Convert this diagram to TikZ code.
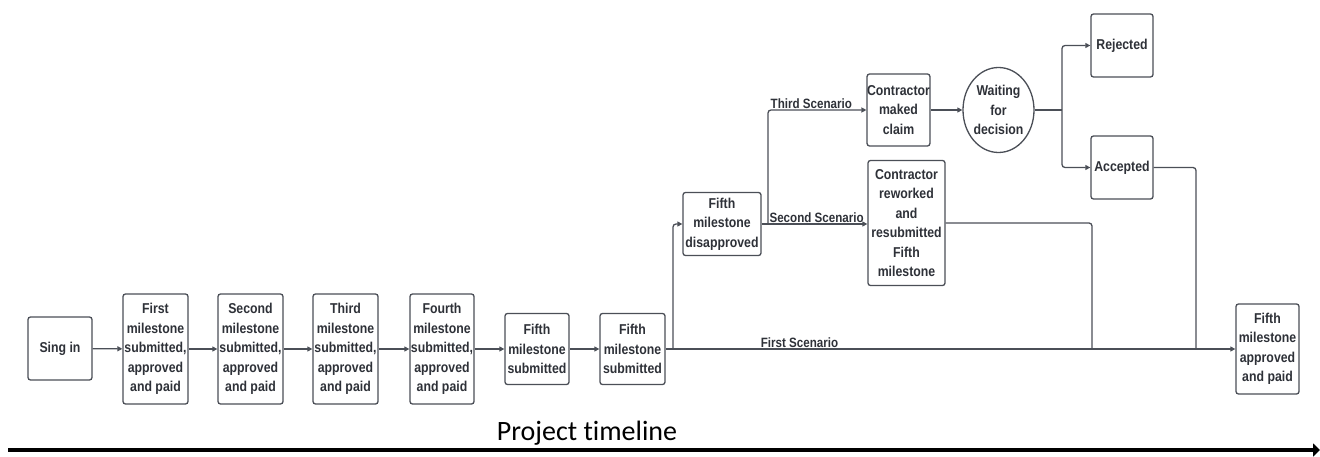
\documentclass[tikz,border=0pt]{standalone}
\usepackage{fontspec}
\usetikzlibrary{arrows.meta,shapes.geometric}
\newfontfamily\boxfont{Liberation Sans}[FakeStretch=0.86]
\newfontfamily\tlfont{Carlito}[Ligatures=NoCommon]
\definecolor{edge}{HTML}{4B4F57}
\definecolor{ink}{HTML}{2E3138}
\tikzset{
  box/.style={draw=edge, line width=1.3pt, rounded corners=2.5pt, fill=white,
    inner sep=0pt, align=center, text=ink,
    font=\boxfont\bfseries\fontsize{14.3}{19.5}\selectfont},
  oval/.style={box, ellipse, rounded corners=0pt},
  link/.style={draw=edge, line width=1.3pt},
  arr/.style={link, -{Triangle[length=5pt,width=5pt]}},
  tag/.style={text=ink, inner sep=1pt, font=\boxfont\bfseries\fontsize{13.5}{15}\selectfont}
}
\begin{document}
\begin{tikzpicture}[x=1pt,y=-1pt]
\useasboundingbox (0,0) rectangle (1320,457);

% milestone chain along the main line
\node[box, minimum width=64pt, minimum height=63pt] (sign) at (60,348.5) {Sing in};
\node[box, minimum width=65pt, minimum height=110pt] (m1) at (155.5,349) {First\\milestone\\submitted,\\approved\\and paid};
\node[box, minimum width=65pt, minimum height=110pt] (m2) at (250.5,349) {Second\\milestone\\submitted,\\approved\\and paid};
\node[box, minimum width=65pt, minimum height=110pt] (m3) at (345.5,349) {Third\\milestone\\submitted,\\approved\\and paid};
\node[box, minimum width=64pt, minimum height=110pt] (m4) at (442,349) {Fourth\\milestone\\submitted,\\approved\\and paid};
\node[box, minimum width=64pt, minimum height=71pt] (f1) at (537,349) {Fifth\\milestone\\submitted};
\node[box, minimum width=65pt, minimum height=71pt] (f2) at (632.5,349) {Fifth\\milestone\\submitted};
\node[box, minimum width=63pt, minimum height=90pt] (fin) at (1267.5,349) {Fifth\\milestone\\approved\\and paid};

% dispute branches
\node[box, minimum width=78pt, minimum height=63pt] (dis) at (722,224) {Fifth\\milestone\\disapproved};
\node[box, minimum width=77pt, minimum height=125pt] (rew) at (906.5,223) {Contractor\\reworked\\and\\resubmitted\\Fifth\\milestone};
\node[box, minimum width=61pt, minimum height=72pt] (claim) at (898.5,110) {Contractor\\maked\\claim};
\node[oval, minimum width=71pt, minimum height=85pt] (wait) at (998.5,110) {Waiting\\for\\decision};
\node[box, minimum width=62pt, minimum height=63pt] (rej) at (1122,45.5) {Rejected};
\node[box, minimum width=62pt, minimum height=63pt] (acc) at (1122,167.5) {Accepted};

% junction points
\coordinate (j1) at (673,349);
\coordinate (j2) at (768,224);
\coordinate (j3) at (1062,110);
\coordinate (j4) at (1092,349);
\coordinate (j5) at (1196,349);

% connectors
\draw[arr] (sign) -- (m1);
\draw[arr] (m1) -- (m2);
\draw[arr] (m2) -- (m3);
\draw[arr] (m3) -- (m4);
\draw[arr] (m4) -- (f1);
\draw[arr] (f1) -- (f2);
\draw[arr] (f2) -- node[tag, above, pos=0.235] {First Scenario} (fin);
\draw[arr, rounded corners=3pt] (j1) |- (dis.west);
\draw[arr] (dis.east) -- node[tag, above, pos=0.52] {Second Scenario} (rew.west |- dis.east);
\draw[arr, rounded corners=3pt] (j2) |- node[tag, above, pos=0.72] {Third Scenario} (claim.west);
\draw[arr] (claim) -- (wait);
\draw[link] (wait.east) -- (j3);
\draw[arr, rounded corners=3pt] (j3) |- (rej.west);
\draw[arr, rounded corners=3pt] (j3) |- (acc.west);
\draw[link, rounded corners=3pt] (acc.east) -| (j5);
\draw[link, rounded corners=3pt] (rew.east) -| (j4);

% project timeline
\node[font=\tlfont\fontsize{28}{30}\selectfont, anchor=base, inner sep=0pt] (tl) at (587,440) {Project timeline};
\coordinate (t0) at (8,450);
\coordinate (t1) at (1320,450);
\draw[line width=4pt, -{Triangle[length=7pt,width=13pt]}] (t0) -- (t1);
\end{tikzpicture}
\end{document}
